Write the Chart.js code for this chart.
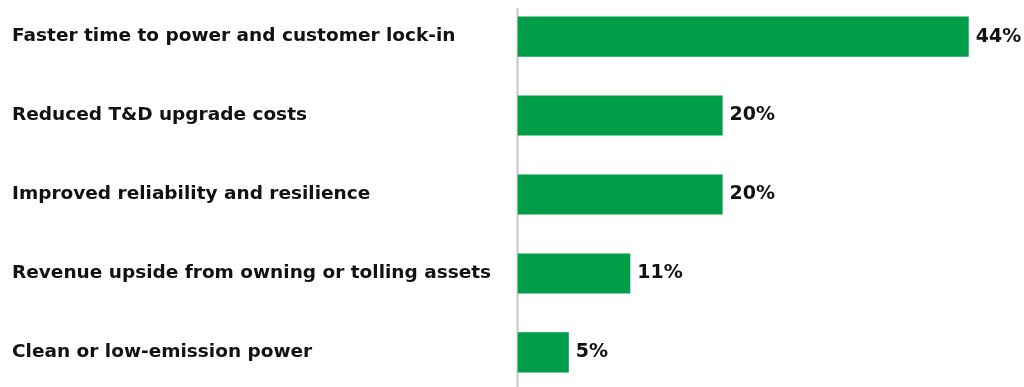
<!DOCTYPE html>
<html>
<head>
<meta charset="utf-8">
<script src="https://cdn.jsdelivr.net/npm/chart.js@4.4.0/dist/chart.umd.min.js"></script>
<style>
  html, body { margin: 0; padding: 0; background: #fff; overflow: hidden; }
  #wrap { position: absolute; left: 0; top: -14px; width: 1024px; height: 417px; }
</style>
</head>
<body>
<div id="wrap"><canvas id="chartBenefits"></canvas></div>
<script>
// Survey: benefits of onsite generation
const categories = [
    "Faster time to power and customer lock-in",
    "Reduced T&D upgrade costs",
    "Improved reliability and resilience",
    "Revenue upside from owning or tolling assets",
    "Clean or low-emission power"
];
const shares = [44, 20, 20, 11, 5];

const FONT = "'DejaVu Sans', sans-serif";

// value label at the end of each bar
const barLabels = {
    id: "barLabels",
    afterDatasetsDraw(chart) {
        const ctx = chart.ctx;
        const meta = chart.getDatasetMeta(0);
        ctx.save();
        ctx.font = "bold 19px " + FONT;
        ctx.fillStyle = "#111";
        ctx.textBaseline = "middle";
        ctx.textAlign = "left";
        meta.data.forEach((bar, i) => {
            ctx.fillText(shares[i] + "%", bar.x + 7, bar.y);
        });
        ctx.restore();
    }
};

// grey zero line, starts a bit below the top
const zeroLine = {
    id: "zeroLine",
    beforeDatasetsDraw(chart) {
        const ctx = chart.ctx;
        const x = Math.round(chart.scales.x.getPixelForValue(0)) - 0.5;
        ctx.save();
        ctx.strokeStyle = "#c8c8c8";
        ctx.lineWidth = 2;
        ctx.beginPath();
        ctx.moveTo(x, chart.chartArea.top + 11);
        ctx.lineTo(x, chart.chartArea.bottom);
        ctx.stroke();
        ctx.restore();
    }
};

const ctxBenefits = document.getElementById("chartBenefits").getContext("2d");
new Chart(ctxBenefits, {
    type: "bar",
    data: {
        labels: categories,
        datasets: [{
            data: shares,
            backgroundColor: "#009d48",
            barPercentage: 0.508,
            categoryPercentage: 1
        }]
    },
    options: {
        indexAxis: "y",
        responsive: true,
        maintainAspectRatio: false,
        animation: false,
        layout: { padding: { left: 12, right: 4, top: 0, bottom: 0 } },
        plugins: { legend: { display: false }, tooltip: { enabled: false } },
        scales: {
            x: {
                min: 0,
                max: 49,
                display: false
            },
            y: {
                grid: { display: false, drawTicks: false },
                border: { display: false },
                ticks: {
                    crossAlign: "far",
                    padding: 0,
                    color: "#111",
                    font: { family: FONT, size: 18.5, weight: "bold" }
                },
                afterFit(scale) { scale.width = 505.5; }
            }
        }
    },
    plugins: [zeroLine, barLabels]
});
</script>
</body>
</html>
